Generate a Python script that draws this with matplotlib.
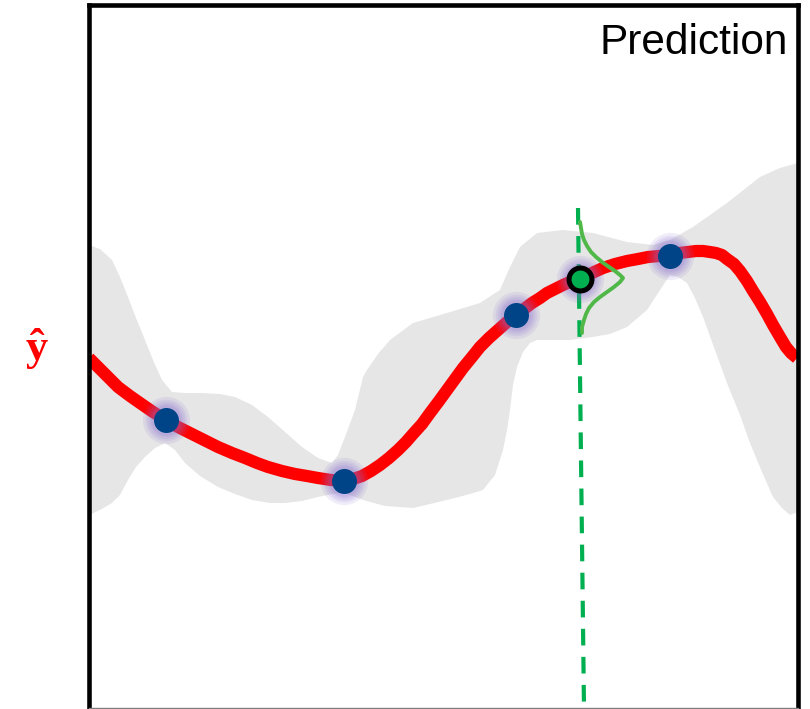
import numpy as np
import matplotlib
matplotlib.use('Agg')
import matplotlib.pyplot as plt

plt.rcParams['lines.scale_dashes'] = False

# positions (x to the right, y downward)
mean_x = [89, 104, 118, 130, 140, 153, 166, 178, 190, 204, 218, 232, 245, 257, 268,
          282, 295, 307, 318, 331, 344, 353, 362, 371, 380, 389, 398, 406, 413, 422,
          430, 439, 447, 455, 463, 472, 480, 489, 498, 507, 516, 524, 532, 540, 547,
          555, 563, 572, 580, 592, 603, 615, 627, 638, 648, 659, 670, 679, 688, 696,
          703, 710, 716, 722, 727, 734, 740, 747, 753, 760, 767, 773, 780, 786, 791, 797]
mean_y = [358, 373, 387, 396, 403, 412, 420, 427, 433, 440, 447, 453, 458, 463, 467,
          471, 474, 476, 478, 480, 481, 479, 476, 471, 465, 458, 450, 442, 434, 424,
          413, 401, 390, 379, 368, 357, 347, 338, 330, 322, 315, 309, 303, 298, 293,
          289, 285, 281, 278, 273, 268, 264, 261, 259, 257, 256, 255, 253, 252, 251,
          251, 252, 253, 255, 259, 264, 271, 281, 291, 302, 314, 325, 337, 347, 353, 358]

upper_x = [89, 100, 112, 120, 128, 136, 145, 153, 162, 172, 185, 202, 220, 235, 252,
           268, 285, 302, 318, 332, 338, 345, 355, 363, 367, 378, 390, 413, 447, 480,
           500, 510, 520, 537, 563, 593, 627, 653, 670, 693, 727, 760, 780, 798]
upper_y = [245, 249, 260, 277, 297, 318, 340, 360, 380, 392, 393, 393, 394, 397, 405,
           417, 432, 447, 458, 463, 455, 437, 410, 377, 370, 354, 340, 323, 313, 303,
           290, 267, 247, 233, 230, 233, 242, 245, 240, 227, 203, 177, 168, 163]

lower_x = [89, 100, 112, 120, 128, 136, 145, 155, 165, 175, 185, 200, 218, 235, 252,
           270, 285, 302, 318, 332, 345, 363, 385, 413, 447, 470, 483, 495, 503, 507,
           510, 513, 517, 523, 530, 537, 570, 593, 610, 627, 647, 660, 670, 678, 687,
           695, 703, 715, 727, 740, 750, 762, 773, 782, 790, 798]
lower_y = [515, 510, 503, 495, 480, 467, 457, 448, 443, 450, 463, 476, 487, 494, 500,
           503, 503, 501, 497, 494, 493, 500, 506, 508, 500, 494, 490, 475, 450, 430,
           410, 385, 367, 352, 343, 340, 340, 337, 334, 327, 310, 290, 275, 277, 283,
           298, 317, 350, 383, 415, 443, 472, 497, 508, 515, 512]

obs_x = [166, 344, 516, 670]
obs_y = [420, 481, 315, 256]

query_x, query_y = 580, 279

dist_x = [580, 581, 582, 584, 587, 591, 596, 602, 609, 615, 620, 623, 620, 614, 607,
          600, 594, 589, 586, 584, 582, 582]
dist_y = [222, 228, 234, 240, 246, 252, 257, 262, 267, 271, 275, 278, 282, 287, 292,
          297, 302, 308, 314, 320, 327, 333]

vline_x = [578, 584]
vline_y = [208, 708]

fig = plt.figure(figsize=(8.1, 7.09), dpi=100)
ax = fig.add_axes([89/810, 1/709, 709/810, 703/709])
ax.set_xlim(89, 798)
ax.set_ylim(708, 5)
ax.set_xticks([])
ax.set_yticks([])

for s in ['left', 'top', 'right']:
    ax.spines[s].set_linewidth(3.3)
    ax.spines[s].set_color('black')
ax.spines['bottom'].set_linewidth(1.0)
ax.spines['bottom'].set_color('#7f7f7f')

# uncertainty band
band_x = upper_x + lower_x[::-1]
band_y = upper_y + lower_y[::-1]
ax.fill(band_x, band_y, color='#e6e6e6', lw=0, zorder=1)

# predicted mean
ax.plot(mean_x, mean_y, color='#ff0000', lw=8.8, solid_capstyle='butt',
        solid_joinstyle='round', zorder=2)

# query line
ax.plot(vline_x, vline_y, color='#00b050', lw=3.0, dashes=(12.0, 8.2), zorder=3)

# predictive distribution
ax.plot(dist_x, dist_y, color='#50b848', lw=2.8, solid_joinstyle='round',
        solid_capstyle='round', zorder=4)

# glow around points
all_x = obs_x + [query_x]
all_y = obs_y + [query_y]
for ms in [34, 30, 27, 24, 22]:
    ax.plot(all_x, all_y, 'o', ms=ms, color='#8a6fd0', alpha=0.12, mew=0, zorder=5)

ax.plot(obs_x, obs_y, 'o', ms=18, color='#004488', mew=0, zorder=6)
ax.plot(query_x, query_y, 'o', ms=16.5, mfc='#00b050', mec='black', mew=3.6, zorder=7)

ax.text(788, 54, 'Prediction', ha='right', va='baseline', fontsize=30.5,
        family='Liberation Sans', color='black', zorder=8)

ax.text(37, 360, '\u0177', ha='center', va='baseline', fontsize=32,
        family='Liberation Serif', fontweight='bold', color='#ff0000', clip_on=False)

fig.savefig('out.png', dpi=100)
